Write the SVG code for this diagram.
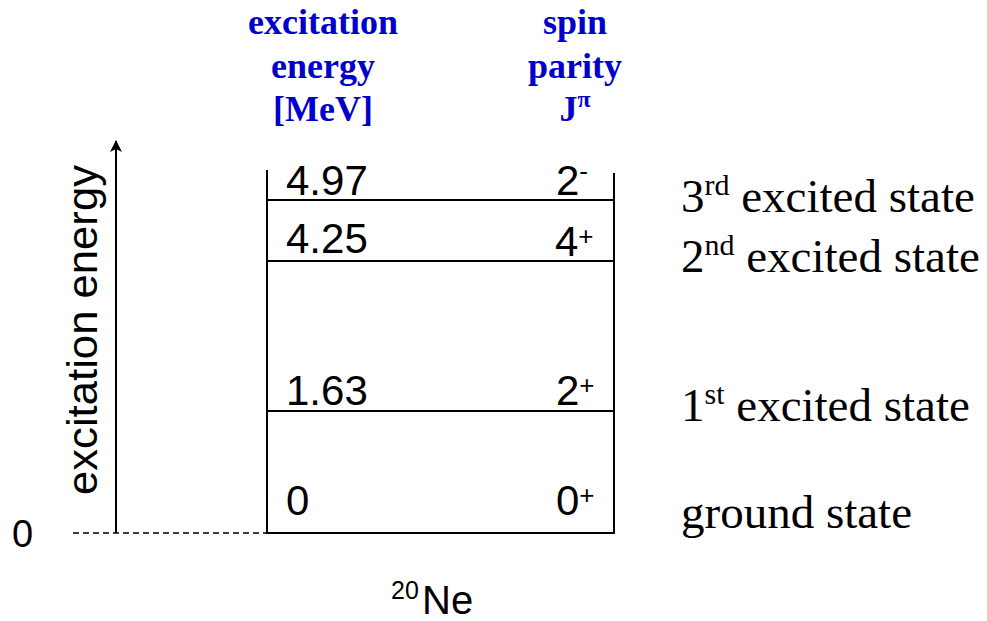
<svg xmlns="http://www.w3.org/2000/svg" width="987" height="621" viewBox="0 0 987 621">
<style>
.hd{font-family:"Liberation Serif","Times New Roman",serif;font-weight:bold;font-size:36px;fill:#0000CC;text-anchor:middle}
.num{font-family:"Liberation Sans",Arial,sans-serif;font-size:42px;fill:#000}
.st{font-family:"Liberation Serif","Times New Roman",serif;font-size:47px;fill:#000}
.ln{stroke:#000;stroke-width:2;fill:none}
</style>
<defs>
<marker id="ah" viewBox="0 0 12 12" refX="11" refY="6" markerWidth="12" markerHeight="12" markerUnits="userSpaceOnUse" orient="auto">
<path d="M0,0 L12,6 L0,12 L3,6 Z" fill="#000"/>
</marker>
</defs>
<g id="headers">
<text class="hd" x="323" y="34">excitation</text>
<text class="hd" x="323" y="78">energy</text>
<text class="hd" x="323" y="121">[MeV]</text>
<text class="hd" x="575" y="34">spin</text>
<text class="hd" x="575" y="78">parity</text>
<text class="hd" x="575" y="121">J<tspan style="font-size:24px" dy="-14">π</tspan></text>
</g>
<g id="axis">
<line class="ln" x1="116" y1="533" x2="116" y2="141" marker-end="url(#ah)"/>
<line x1="73" y1="533" x2="283" y2="533" stroke="#000" stroke-width="1.5" stroke-dasharray="6,4"/>
<text class="num" x="12" y="547" style="font-size:38px">0</text>
<text class="num" x="97" y="495" transform="rotate(-90 97 495)" style="font-size:42px" textLength="330" lengthAdjust="spacingAndGlyphs">excitation energy</text>
</g>
<g id="box">
<line class="ln" x1="267" y1="170" x2="267" y2="533"/>
<line class="ln" x1="614" y1="173" x2="614" y2="533"/>
<line class="ln" x1="266" y1="533" x2="615" y2="533"/>
</g>
<g id="level-3">
<line class="ln" x1="267" y1="200" x2="614" y2="200"/>
<text class="num" x="286" y="195">4.97</text>
<text class="num" x="556" y="195">2<tspan style="font-size:26px" dy="-15">-</tspan></text>
<text class="st" x="681" y="212">3<tspan style="font-size:30px" dy="-17">rd</tspan><tspan dy="17"> excited state</tspan></text>
</g>
<g id="level-2">
<line class="ln" x1="267" y1="261" x2="614" y2="261"/>
<text class="num" x="286" y="253">4.25</text>
<text class="num" x="555" y="256">4<tspan style="font-size:26px" dy="-11">+</tspan></text>
<text class="st" x="681" y="272">2<tspan style="font-size:30px" dy="-17">nd</tspan><tspan dy="17"> excited state</tspan></text>
</g>
<g id="level-1">
<line class="ln" x1="267" y1="411" x2="614" y2="411"/>
<text class="num" x="286" y="405">1.63</text>
<text class="num" x="556" y="405">2<tspan style="font-size:26px" dy="-11">+</tspan></text>
<text class="st" x="681" y="421">1<tspan style="font-size:30px" dy="-17">st</tspan><tspan dy="17"> excited state</tspan></text>
</g>
<g id="ground">
<text class="num" x="286" y="515">0</text>
<text class="num" x="556" y="515">0<tspan style="font-size:26px" dy="-11">+</tspan></text>
<text class="st" x="681" y="528">ground state</text>
</g>
<g id="nucleus">
<text class="num" x="391" y="599" style="font-size:25px">20</text>
<text class="num" x="422" y="614" style="font-size:40px">Ne</text>
</g>
</svg>
